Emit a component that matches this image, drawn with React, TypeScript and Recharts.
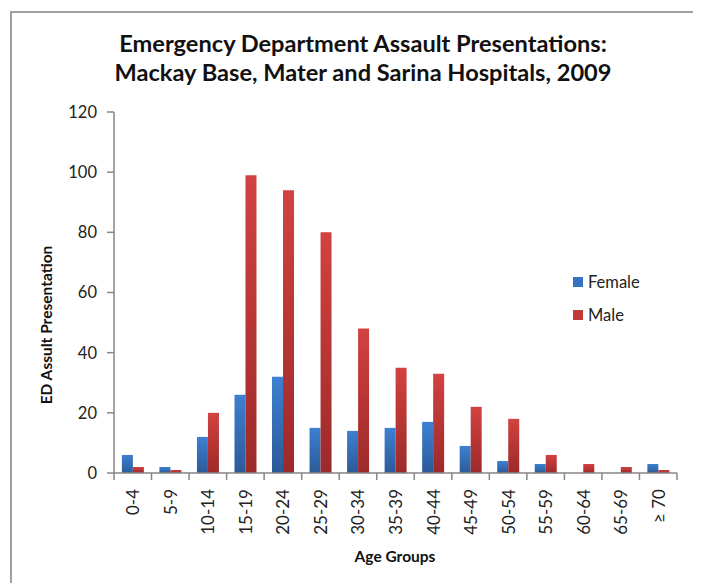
import React from "react";
import { BarChart, Bar, XAxis, YAxis, Legend } from "recharts";

const ageGroups = ["0-4", "5-9", "10-14", "15-19", "20-24", "25-29", "30-34", "35-39", "40-44", "45-49", "50-54", "55-59", "60-64", "65-69", "≥ 70"];
const femaleValues = [6, 2, 12, 26, 32, 15, 14, 15, 17, 9, 4, 3, 0, 0, 3];
const maleValues = [2, 1, 20, 99, 94, 80, 48, 35, 33, 22, 18, 6, 3, 2, 1];
const yTicks = [0, 20, 40, 60, 80, 100, 120];

const data = ageGroups.map((g, i) => ({ group: g, Female: femaleValues[i], Male: maleValues[i] }));

const W = 693;
const H = 575;
const M = { top: 104, right: 24, left: 46, bottom: 50 };
const Y_AXIS_W = 60;
const X_AXIS_H = 60;
const PLOT_W = W - M.left - M.right - Y_AXIS_W;
const BAND = PLOT_W / ageGroups.length;
const FONT = "Lato, 'Open Sans', sans-serif";
const AXIS_COLOR = "#868686";

const XTick = (props: any) => {
  const { x, y, payload, index } = props;
  const half = BAND / 2;
  return (
    <g>
      <line x1={x - half} x2={x - half} y1={y} y2={y + 7} stroke={AXIS_COLOR} strokeWidth={1.5} />
      {index === ageGroups.length - 1 && (
        <line x1={x + half} x2={x + half} y1={y} y2={y + 7} stroke={AXIS_COLOR} strokeWidth={1.5} />
      )}
      <text
        x={x}
        y={y + 16}
        transform={`rotate(-90, ${x}, ${y + 16})`}
        textAnchor="end"
        dominantBaseline="central"
        fontSize={17}
        fontFamily={FONT}
        fill="#222"
      >
        {payload.value}
      </text>
    </g>
  );
};

const LegendContent = () => (
  <div style={{ fontFamily: FONT, fontSize: 16.5, color: "#222" }}>
    {[
      { name: "Female", color: "#3672c0" },
      { name: "Male", color: "#c23a37" },
    ].map((item, i) => (
      <div key={item.name} style={{ display: "flex", alignItems: "center", height: 20, marginBottom: i === 0 ? 13 : 0 }}>
        <span style={{ display: "inline-block", width: 10, height: 10, background: item.color, marginRight: 5 }} />
        <span>{item.name}</span>
      </div>
    ))}
  </div>
);

export default function App() {
  return (
    <div style={{ position: "relative", width: W, height: H, overflow: "hidden", background: "#fff" }}>
      <style>{`html, body { overflow: hidden; }`}</style>
      <div style={{ position: "absolute", left: 2, top: 3, width: 691, height: 2, background: "#a0a0a0" }} />
      <div style={{ position: "absolute", left: 2, top: 3, width: 2, height: 572, background: "#a0a0a0" }} />
      <div
        style={{
          position: "absolute",
          left: 0,
          width: 710,
          top: 21,
          textAlign: "center",
          fontFamily: FONT,
          fontWeight: 700,
          fontSize: 23.6,
          lineHeight: "29px",
          color: "#111",
        }}
      >
        Emergency Department Assault Presentations:
        <br />
        Mackay Base, Mater and Sarina Hospitals, 2009
      </div>
      <div
        style={{
          position: "absolute",
          left: 38 - 150,
          top: 317 - 10,
          width: 300,
          height: 20,
          lineHeight: "20px",
          textAlign: "center",
          transform: "rotate(-90deg)",
          fontFamily: FONT,
          fontWeight: 700,
          fontSize: 15.5,
          color: "#111",
        }}
      >
        ED Assult Presentation
      </div>
      <div
        style={{
          position: "absolute",
          left: 387 - 100,
          top: 539,
          width: 200,
          textAlign: "center",
          fontFamily: FONT,
          fontWeight: 700,
          fontSize: 15.5,
          color: "#111",
        }}
      >
        Age Groups
      </div>
      <div style={{ position: "absolute", left: 0, top: 0 }}>
        <BarChart width={W} height={H} data={data} margin={M} barCategoryGap="21%" barGap={0}>
          <defs>
            <linearGradient id="gFemale" x1="0" y1="0" x2="0" y2="1">
              <stop offset="0%" stopColor="#3d80d2" />
              <stop offset="100%" stopColor="#2c5a98" />
            </linearGradient>
            <linearGradient id="gMale" x1="0" y1="0" x2="0" y2="1">
              <stop offset="0%" stopColor="#d24240" />
              <stop offset="100%" stopColor="#9c2a29" />
            </linearGradient>
          </defs>
          <XAxis
            dataKey="group"
            height={X_AXIS_H}
            interval={0}
            tickSize={0}
            tickMargin={0}
            tickLine={false}
            tick={<XTick />}
            axisLine={{ stroke: AXIS_COLOR, strokeWidth: 1.5 }}
          />
          <YAxis
            width={Y_AXIS_W}
            domain={[0, 120]}
            ticks={yTicks}
            interval={0}
            tickSize={7}
            tickMargin={10}
            tick={{ fontSize: 16.5, fontFamily: FONT, fill: "#222" }}
            tickLine={{ stroke: AXIS_COLOR, strokeWidth: 1.5 }}
            axisLine={{ stroke: AXIS_COLOR, strokeWidth: 1.5 }}
          />
          <Legend
            layout="horizontal"
            verticalAlign="middle"
            align="center"
            content={<LegendContent />}
            wrapperStyle={{ left: 565, top: 264, width: 100 }}
          />
          <Bar dataKey="Female" fill="url(#gFemale)" isAnimationActive={false} />
          <Bar dataKey="Male" fill="url(#gMale)" isAnimationActive={false} />
        </BarChart>
      </div>
    </div>
  );
}
